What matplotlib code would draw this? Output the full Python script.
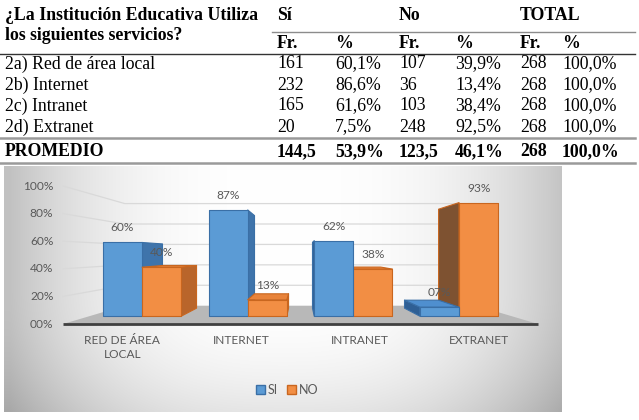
import matplotlib.pyplot as plt
import numpy as np
from matplotlib.patches import Patch, Polygon

# ---- table data ----
header_q = ["¿La Institución Educativa Utiliza", "los siguientes servicios?"]
group_labels = ["Sí", "No", "TOTAL"]
sub_labels = ["Fr.", "%", "Fr.", "%", "Fr.", "%"]
row_labels = ["2a) Red de área local", "2b) Internet", "2c) Intranet", "2d) Extranet"]
si_fr = ["161", "232", "165", "20"]
si_pct = ["60,1%", "86,6%", "61,6%", "7,5%"]
no_fr = ["107", "36", "103", "248"]
no_pct = ["39,9%", "13,4%", "38,4%", "92,5%"]
tot_fr = ["268", "268", "268", "268"]
tot_pct = ["100,0%", "100,0%", "100,0%", "100,0%"]
avg_row = ["PROMEDIO", "144,5", "53,9%", "123,5", "46,1%", "268", "100,0%"]

# ---- chart data ----
categories = ["RED DE ÁREA\nLOCAL", "INTERNET", "INTRANET", "EXTRANET"]
si_values = [60.07, 86.57, 61.57, 7.46]
no_values = [39.93, 13.43, 38.43, 92.54]
y_ticks = [0, 20, 40, 60, 80, 100]

SI_FRONT, SI_SIDE, SI_TOP, SI_EDGE = "#5B9BD5", "#3F74AB", "#4F8FCF", "#3A6FA6"
NO_FRONT, NO_SIDE, NO_TOP, NO_EDGE = "#F28E44", "#B9652B", "#E8833A", "#C9661F"
TEXT_GRAY = "#595959"
SERIF = "Liberation Serif"
SANS = "Lato"

W, H = 639, 420
fig = plt.figure(figsize=(W / 100, H / 100), dpi=100)

# ---------------- table (pixel coordinates) ----------------
tab = fig.add_axes([0, 0, 1, 1])
tab.set_xlim(0, W)
tab.set_ylim(H, 0)
tab.axis("off")

col_x = [277, 335, 399, 455, 520, 562]
row_y = [64, 85, 106, 127]
fs = 12.8

for line, y in zip(header_q, [16, 36]):
    tab.text(5, y, line, fontfamily=SERIF, fontweight="bold", fontsize=fs, va="center")
for lab, x in zip(group_labels, col_x[::2]):
    tab.text(x, 16, lab, fontfamily=SERIF, fontweight="bold", fontsize=fs, va="center")
for lab, x in zip(sub_labels, col_x):
    tab.text(x, 43, lab, fontfamily=SERIF, fontweight="bold", fontsize=fs, va="center")

columns = [si_fr, si_pct, no_fr, no_pct, tot_fr, tot_pct]
for i, y in enumerate(row_y):
    tab.text(5, y, row_labels[i], fontfamily=SERIF, fontsize=fs, va="center")
    for col, x in zip(columns, col_x):
        tab.text(x, y, col[i], fontfamily=SERIF, fontsize=fs, va="center")

tab.text(5, 152, avg_row[0], fontfamily=SERIF, fontweight="bold", fontsize=fs, va="center")
for val, x in zip(avg_row[1:], col_x):
    tab.text(x, 152, val, fontfamily=SERIF, fontweight="bold", fontsize=fs, va="center")

tab.plot([272, 635], [32, 32], color="#8c8c8c", lw=1.0)
tab.plot([0, 635], [53.5, 53.5], color="#333333", lw=1.0)
tab.plot([0, 635], [138, 138], color="#9a9a9a", lw=1.8)
tab.plot([0, 635], [163, 163], color="#9a9a9a", lw=1.8)

# ---------------- chart area ----------------
cx0, cx1, cy0, cy1 = 4, 562, 166, 412
rect = [cx0 / W, 1 - cy1 / H, (cx1 - cx0) / W, (cy1 - cy0) / H]

# gradient background of the chart area (white centre, grey sides)
bg = fig.add_axes(rect)
gx = np.linspace(-1, 1, 300)
gy = np.linspace(-1, 1, 150)
GX, GY = np.meshgrid(gx, gy)
side = np.where(GX < 0, np.abs(GX) * 1.02, GX * 0.98)
shade = 1.0 - 0.24 * np.clip(side, 0, 1) ** 2.6 - 0.10 * np.clip(GY, 0, 1) ** 2
bg.imshow(np.dstack([np.clip(shade, 0, 1)] * 3), aspect="auto", extent=[0, 1, 0, 1],
          interpolation="bilinear")
bg.axis("off")

ax = fig.add_axes(rect)
ax.patch.set_alpha(0)
ax.axis("off")
# data units: category index on x, percent on y (front plane)
ax.set_xlim((cx0 - 122.4) / 118.75, (cx1 - 122.4) / 118.75)
ax.set_ylim((324 - cy1) / 1.38, (324 - cy0) / 1.38)

VX, VY = 1.5, 51.0          # vanishing point
S_FRONT, S_BACK, S_WALL = 0.89, 0.775, 0.74
BAR_W = 0.37
box_left, box_right = -0.5, len(categories) - 0.5


def proj(x, y, s):
    return VX + (x - VX) * s, VY + (y - VY) * s


def face(points, fc, ec, z):
    ax.add_patch(Polygon([proj(*p) for p in points], closed=True, facecolor=fc,
                         edgecolor=ec, lw=0.8, zorder=z, joinstyle="round"))


# floor
face([(box_left, 0, 1), (box_right, 0, 1), (box_right, 0, S_WALL), (box_left, 0, S_WALL)],
     "#B8B8B8", "none", 1)
ax.plot([box_left, box_right], [0, 0], color="#404040", lw=2.0, zorder=2, solid_capstyle="butt")

# side wall + back wall gridlines
for t in y_ticks[1:]:
    p_front = proj(box_left, t, 1)
    p_corner = proj(box_left, t, S_WALL)
    p_right = proj(box_right, t, S_WALL)
    ax.plot([p_front[0], p_corner[0], p_right[0]], [p_front[1], p_corner[1], p_right[1]],
            color="#D9D9D9", lw=0.9, zorder=1)

# y tick labels on the front plane
for t in y_ticks:
    ax.annotate(f"{t:02d}%", (box_left, t), xytext=(-7, 0), textcoords="offset points",
                ha="right", va="center", fontsize=8.6, color=TEXT_GRAY, fontfamily=SANS)

# category labels
for i, cat in enumerate(categories):
    ax.annotate(cat, (i, 0), xytext=(0, -8), textcoords="offset points", ha="center",
                va="top", fontsize=8.6, color=TEXT_GRAY, fontfamily=SANS, linespacing=1.3)

# bars (painter's order: farthest from vanishing point first)
bars = []
for i in range(len(categories)):
    bars.append((i - BAR_W, i, si_values[i], SI_FRONT, SI_SIDE, SI_TOP, SI_EDGE))
    bars.append((i, i + BAR_W, no_values[i], NO_FRONT, NO_SIDE, NO_TOP, NO_EDGE))
bars.sort(key=lambda b: -abs((b[0] + b[1]) / 2 - VX))

for k, (xa, xb, h, fc, sc, tc, ec) in enumerate(bars):
    z = 3 + k
    if xb < VX:
        face([(xb, 0, S_FRONT), (xb, 0, S_BACK), (xb, h, S_BACK), (xb, h, S_FRONT)], sc, ec, z)
    elif xa > VX:
        dark = "#7E5231" if fc == NO_FRONT else "#2F5F94"
        face([(xa, 0, S_FRONT), (xa, 0, S_BACK), (xa, h, S_BACK), (xa, h, S_FRONT)], dark, ec, z)
    if h < VY:
        face([(xa, h, S_FRONT), (xb, h, S_FRONT), (xb, h, S_BACK), (xa, h, S_BACK)], tc, ec, z)
    face([(xa, 0, S_FRONT), (xb, 0, S_FRONT), (xb, h, S_FRONT), (xa, h, S_FRONT)], fc, ec, z)
    lx, ly = proj((xa + xb) / 2, h, S_FRONT)
    ax.annotate(f"{h:02.0f}%", (lx, ly), xytext=(0, 10.5), textcoords="offset points",
                ha="center", va="center", fontsize=8.6, color=TEXT_GRAY, fontfamily=SANS,
                zorder=50)

handles = [Patch(facecolor=SI_FRONT, edgecolor=SI_EDGE, label="SI"),
           Patch(facecolor=NO_FRONT, edgecolor=NO_EDGE, label="NO")]
leg = ax.legend(handles=handles, loc="center",
                bbox_to_anchor=((287 - cx0) / (cx1 - cx0), (cy1 - 390) / (cy1 - cy0)),
                ncol=2, frameon=False, handlelength=0.75, handleheight=0.75, handletextpad=0.2,
                columnspacing=0.7, prop={"family": SANS, "size": 9})
for t in leg.get_texts():
    t.set_color(TEXT_GRAY)

fig.savefig("out.png", dpi=100)
